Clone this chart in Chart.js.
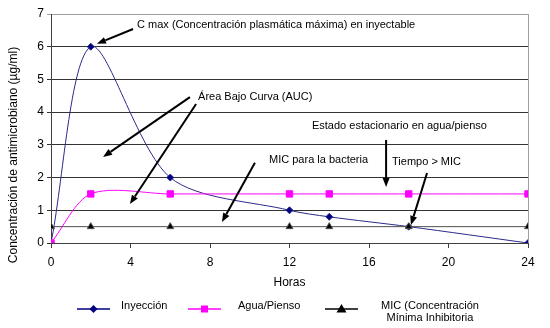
<!DOCTYPE html>
<html>
<head>
<meta charset="utf-8">
<script src="https://cdn.jsdelivr.net/npm/chart.js@4.4.0/dist/chart.umd.min.js"></script>
<style>
  html, body { margin: 0; padding: 0; background: #fff; }
</style>
</head>
<body>
<canvas id="pkChart" width="550" height="328"></canvas>
<script>
// data
const horas = [0, 2, 6, 12, 14, 18, 24];
const inyeccion = [0, 6, 2, 1, 0.8, 0.5, 0];
const aguaPienso = [0, 1.5, 1.5, 1.5, 1.5, 1.5, 1.5];
const mic = [0.5, 0.5, 0.5, 0.5, 0.5, 0.5, 0.5];
const seriesNames = ['Inyección', 'Agua/Pienso', 'MIC (Concentración\nMínima Inhibitoria'];
const yTitle = 'Concentración de antimicrobiano (µg/ml)';
const xTitle = 'Horas';

// notes with arrows, in hours / concentration units
const notes = [
  { text: 'C max (Concentración plasmática máxima) en inyectable', at: [4.33, 6.66],
    arrows: [[[4.13, 6.54], [2.31, 6.09]]] },
  { text: 'Área Bajo Curva (AUC)', at: [7.4, 4.46],
    arrows: [[[6.99, 4.46], [2.62, 2.63]], [[7.3, 4.25], [3.97, 1.19]]] },
  { text: 'Estado estacionario en agua/pienso', at: [13.13, 3.58],
    arrows: [[[16.86, 3.15], [16.86, 1.71]]] },
  { text: 'MIC para la bacteria', at: [10.97, 2.54],
    arrows: [[[10.26, 2.45], [8.6, 0.64]]] },
  { text: 'Tiempo > MIC', at: [17.16, 2.48],
    arrows: [[[18.92, 2.14], [18.11, 0.55]]] }
];

const FONT = '"Liberation Sans", Arial, sans-serif';
const toXY = (ys) => horas.map((h, i) => ({ x: h, y: ys[i] }));

function arrow(ctx, x1, y1, x2, y2) {
  const a = Math.atan2(y2 - y1, x2 - x1);
  const len = 9, half = 3.5;
  const bx = x2 - len * Math.cos(a), by = y2 - len * Math.sin(a);
  ctx.beginPath();
  ctx.moveTo(x1, y1);
  ctx.lineTo(bx, by);
  ctx.stroke();
  ctx.beginPath();
  ctx.moveTo(x2, y2);
  ctx.lineTo(bx + half * Math.sin(a), by - half * Math.cos(a));
  ctx.lineTo(bx - half * Math.sin(a), by + half * Math.cos(a));
  ctx.closePath();
  ctx.fill();
}

function marker(ctx, style, x, y, color) {
  ctx.fillStyle = color;
  ctx.beginPath();
  if (style === 'rectRot') {
    ctx.moveTo(x, y - 4); ctx.lineTo(x + 4, y); ctx.lineTo(x, y + 4); ctx.lineTo(x - 4, y);
  } else if (style === 'rect') {
    ctx.rect(x - 3.5, y - 3.5, 7, 7);
  } else {
    ctx.moveTo(x, y - 5); ctx.lineTo(x + 5, y + 3.5); ctx.lineTo(x - 5, y + 3.5);
  }
  ctx.closePath();
  ctx.fill();
}

const extras = {
  id: 'extras',
  afterDraw(chart) {
    const ctx = chart.ctx;
    const xs = chart.scales.x, ys = chart.scales.y;
    const area = chart.chartArea;
    ctx.save();

    // light plot border on the right
    ctx.strokeStyle = '#a0a0a0';
    ctx.lineWidth = 1;
    ctx.beginPath();
    ctx.moveTo(Math.round(area.right) + 0.5, area.top);
    ctx.lineTo(Math.round(area.right) + 0.5, area.bottom);
    ctx.stroke();

    // annotations
    ctx.fillStyle = '#000';
    ctx.strokeStyle = '#000';
    ctx.lineWidth = 2;
    ctx.font = '11px ' + FONT;
    ctx.textBaseline = 'middle';
    ctx.textAlign = 'left';
    notes.forEach(n => {
      ctx.fillText(n.text, xs.getPixelForValue(n.at[0]), ys.getPixelForValue(n.at[1]));
      n.arrows.forEach(([p, q]) => {
        arrow(ctx, xs.getPixelForValue(p[0]), ys.getPixelForValue(p[1]),
                   xs.getPixelForValue(q[0]), ys.getPixelForValue(q[1]));
      });
    });

    // y axis title
    ctx.save();
    ctx.translate(14, 155);
    ctx.rotate(-Math.PI / 2);
    ctx.textAlign = 'center';
    ctx.font = '12px ' + FONT;
    ctx.fillText(yTitle, 0, 0);
    ctx.restore();

    // legend
    const items = [
      { x: 77, style: 'rectRot', color: '#000080', textX: 121 },
      { x: 188, style: 'rect', color: '#ff00ff', textX: 238 },
      { x: 325, style: 'triangle', color: '#000', textX: 430, center: true }
    ];
    const ly = 309;
    ctx.lineWidth = 1.5;
    items.forEach((it, i) => {
      ctx.strokeStyle = it.color;
      ctx.beginPath();
      ctx.moveTo(it.x, ly);
      ctx.lineTo(it.x + 33, ly);
      ctx.stroke();
      marker(ctx, it.style, it.x + 16.5, ly, it.color);
      ctx.fillStyle = '#000';
      ctx.font = '11px ' + FONT;
      const lines = seriesNames[i].split('\n');
      ctx.textAlign = it.center ? 'center' : 'left';
      lines.forEach((t, k) => ctx.fillText(t, it.textX, 306 + k * 12));
    });
    ctx.restore();
  }
};

const ctx = document.getElementById('pkChart').getContext('2d');
new Chart(ctx, {
  type: 'line',
  data: {
    datasets: [
      {
        label: seriesNames[0],
        data: toXY(inyeccion),
        borderColor: '#2a2a8a',
        backgroundColor: '#000080',
        borderWidth: 1,
        pointStyle: 'rectRot',
        pointRadius: 3.5,
        tension: 0.3,
        order: 2
      },
      {
        label: seriesNames[1],
        data: toXY(aguaPienso),
        borderColor: '#ff00ff',
        backgroundColor: '#ff00ff',
        borderWidth: 1,
        pointStyle: 'rect',
        pointRadius: 4.5,
        tension: 0.3,
        order: 1
      },
      {
        label: seriesNames[2],
        data: toXY(mic),
        borderColor: '#505050',
        backgroundColor: '#000',
        borderWidth: 1,
        pointStyle: 'triangle',
        pointRadius: 4,
        tension: 0,
        order: 0
      }
    ]
  },
  options: {
    responsive: false,
    animation: false,
    layout: { padding: { top: 14, right: 22, bottom: 35, left: 0 } },
    plugins: {
      legend: { display: false },
      tooltip: { enabled: false }
    },
    elements: { point: { borderWidth: 0 } },
    scales: {
      x: {
        type: 'linear',
        min: 0,
        max: 24,
        ticks: { stepSize: 4, color: '#000', font: { family: FONT, size: 12 }, padding: 7, maxRotation: 0 },
        grid: { drawOnChartArea: false, drawTicks: true, tickLength: 5, color: '#404040' },
        border: { color: '#404040' },
        title: { display: true, text: xTitle, color: '#000', font: { family: FONT, size: 12 }, padding: { top: 2, bottom: 3 } },
        afterFit(scale) { scale.height = 50; }
      },
      y: {
        min: 0,
        max: 7,
        ticks: { stepSize: 1, color: '#000', font: { family: FONT, size: 12 }, padding: 3 },
        grid: {
          tickLength: 4,
          color: (c) => c.tick && c.tick.value === 7 ? '#a0a0a0' : '#333'
        },
        border: { color: '#404040' },
        afterFit(scale) { scale.width = 51; }
      }
    }
  },
  plugins: [extras]
});
</script>
</body>
</html>
